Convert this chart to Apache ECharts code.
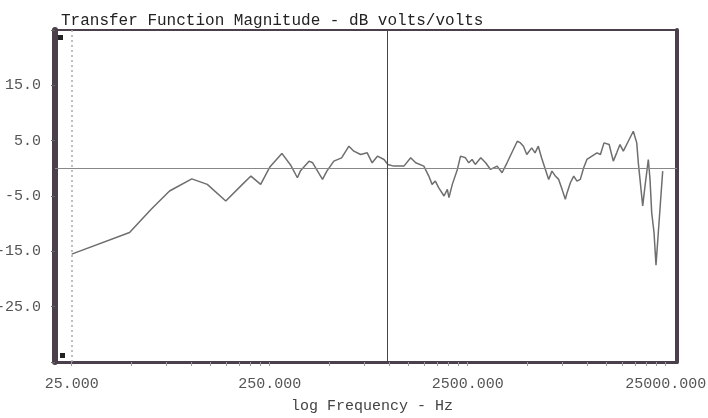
<!DOCTYPE html>
<html><head><meta charset="utf-8">
<script src="https://cdn.jsdelivr.net/npm/echarts@6/dist/echarts.min.js"></script>
<style>html,body{margin:0;padding:0;background:#fff}#c{width:708px;height:418px}</style>
</head><body><div id="c"></div>
<script>
// Frequency (Hz) and transfer-function magnitude (dB)
var freqHz = [25,49,63,78,101,121,150,182,201,225,251,288,320,345,357,395,412,462,486,527,577,628,665,720,777,823,875,945,988,1057,1191,1288,1365,1501,1590,1652,1716,1783,1898,1973,2010,2090,2217,2300,2436,2530,2630,2730,2910,3080,3260,3520,3727,3950,4250,4450,4620,4780,4970,5260,5470,5680,5900,6170,6410,6660,6930,7200,7490,7780,7940,8250,8580,8910,9260,9630,10000,10600,11250,11700,12200,12950,13590,14140,14690,15270,16180,17150,17850,18180,18540,19130,19650,20420,20830,21240,21820,22330,22940,23580,24140];
var magDb = [-15.5,-11.6,-7.4,-4.1,-1.9,-2.9,-5.9,-2.9,-1.4,-2.9,0.3,2.7,0.5,-1.7,-0.5,1.3,1.0,-2.0,-0.5,1.3,1.9,4.0,3.1,2.5,2.8,1.0,2.2,1.6,0.7,0.4,0.4,1.9,1.0,0.4,-1.4,-2.9,-2.3,-3.5,-5.0,-3.8,-5.3,-2.9,-0.2,2.2,1.9,1.0,1.6,0.7,1.9,1.0,-0.2,0.4,-0.8,1.0,3.4,4.9,4.6,4.0,2.5,3.7,2.8,4.0,1.9,-0.2,-2.0,-0.5,-1.4,-2.0,-3.8,-5.6,-4.4,-2.6,-1.4,-2.3,-2.0,0.1,1.6,2.2,2.8,2.5,4.6,4.3,1.3,2.8,4.3,3.1,4.9,6.7,4.6,1.0,-2.0,-6.8,-3.2,1.6,-2.0,-8.0,-11.6,-17.5,-11.6,-5.6,-0.5];
var xLabelHz = [25, 250, 2500, 25000];
var xTickMult = [1,2,3,4,5,6,7,8,9];
var yMin = -35, yMax = 25, yStep = 10;
var startHz = 25, cursorHz = 975;

var lg = Math.log10;
var xTicks = [];
xLabelHz.forEach(function(d){ xTickMult.forEach(function(k){ xTicks.push(lg(d*k)); }); });
var seriesData = freqHz.map(function(f,i){ return [lg(f), magDb[i]]; });
var frame = '#4a3f4a';
var mono = 'Liberation Mono';

var chart = echarts.init(document.getElementById('c'), null, {renderer:'canvas'});
chart.setOption({
  backgroundColor:'#ffffff',
  animation:false,
  title:{text:'Transfer Function Magnitude - dB volts/volts', left:56, top:8,
    textStyle:{fontFamily:mono, fontSize:16, fontWeight:'normal', color:'#222'}},
  grid:{left:55, right:31, top:30, bottom:56, show:true, borderColor:frame, borderWidth:2,
    containLabel:false, outerBoundsMode:'none'},
  xAxis:{type:'value', min:lg(25)-0.0843, max:lg(25)+3.057,
    axisLine:{show:true, onZero:false, lineStyle:{color:frame, width:3}},
    axisTick:{show:true, length:4, customValues:xTicks, lineStyle:{color:'#999', width:1}},
    axisLabel:{customValues:xLabelHz.map(lg), margin:15, fontFamily:mono, fontSize:15, color:'#555',
      formatter:function(v){ return Math.pow(10,v).toFixed(3); }},
    splitLine:{show:false}},
  yAxis:[{type:'value', min:yMin, max:yMax, interval:yStep,
    axisLine:{show:true, onZero:false, lineStyle:{color:frame, width:6}},
    axisTick:{show:true, length:4, inside:false, lineStyle:{color:'#666', width:1}},
    axisLabel:{margin:14, fontFamily:mono, fontSize:15, color:'#555',
      formatter:function(v){ return (v===yMin||v===yMax)?'':v.toFixed(1); }},
    splitLine:{show:false}},
    {type:'value', min:yMin, max:yMax, interval:yStep, position:'right',
    axisLine:{show:true, lineStyle:{color:frame, width:4}}, axisTick:{show:false}, axisLabel:{show:false}, splitLine:{show:false}}],
  graphic:[
    {type:'rect', shape:{x:58,y:35,width:5,height:5}, style:{fill:'#222'}},
    {type:'rect', shape:{x:60,y:353,width:5,height:5}, style:{fill:'#222'}},
    {type:'text', left:291, top:399, style:{text:'log Frequency - Hz', font:'15px "Liberation Mono"', fill:'#444'}}
  ],
  series:[{type:'line', data:seriesData, showSymbol:false, smooth:false,
    lineStyle:{color:'#6e6e6e', width:1.5},
    markLine:{silent:true, symbol:'none', label:{show:false},
      data:[
        {yAxis:0, lineStyle:{color:'#888', width:1, type:'solid'}},
        {xAxis:lg(startHz), lineStyle:{color:'#aaa', width:1.5, type:[2,3]}},
        {xAxis:lg(cursorHz), lineStyle:{color:'#444', width:1, type:'solid'}}
      ]}}]
});
</script></body></html>
